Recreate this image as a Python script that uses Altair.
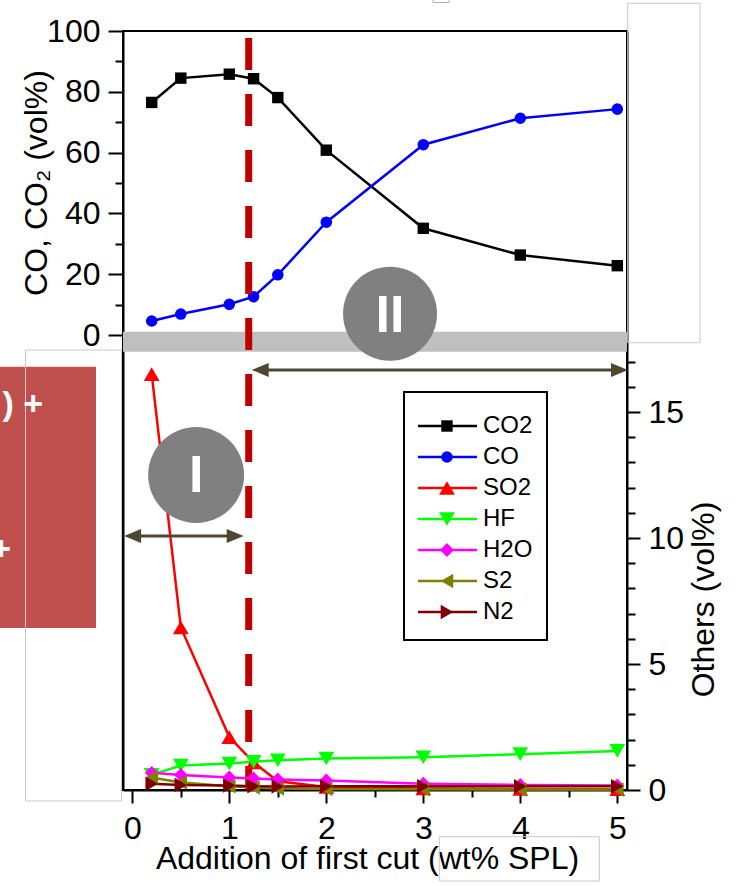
import altair as alt
import pandas as pd

# ---------------- data ----------------
addition = [0.2, 0.5, 1.0, 1.25, 1.5, 2, 3, 4, 5]

co2 = [76.5, 84.5, 85.8, 84.3, 78.1, 60.8, 35.1, 26.3, 22.8]
co = [4.6, 6.9, 10.1, 12.6, 19.8, 37.1, 62.6, 71.3, 74.3]

so2 = [16.5, 6.45, 2.1, 1.1, 0.35, 0.12, 0.06, 0.04, 0.03]
hf = [0.6, 0.97, 1.05, 1.12, 1.18, 1.25, 1.3, 1.42, 1.55]
h2o = [0.68, 0.6, 0.5, 0.46, 0.42, 0.38, 0.25, 0.2, 0.18]
s2 = [0.5, 0.3, 0.15, 0.1, 0.06, 0.04, 0.03, 0.02, 0.02]
n2 = [0.25, 0.2, 0.18, 0.15, 0.14, 0.15, 0.15, 0.15, 0.15]

series_names = ["CO2", "CO", "SO2", "HF", "H2O", "S2", "N2"]
series_colors = ["#000000", "#0000ff", "#ff0000", "#00ff00", "#ff00ff", "#808000", "#800000"]
series_shapes = ["square", "circle", "triangle-up", "triangle-down", "diamond",
                 "triangle-left", "triangle-right"]
series_sizes = [130, 135, 250, 250, 190, 210, 210]

x_ticks = [i / 2 for i in range(11)]
left_ticks = list(range(0, 101, 10))
right_ticks = list(range(0, 18))

# ---------------- styling ----------------
FONT = "Liberation Sans"
ARROW = "#4d4930"
DASH_RED = "#c00000"
CIRCLE_GREY = "#808080"

W, H = 504, 759
X_MIN, X_MAX = -0.096, 5.1
TOP_MIN, TOP_MAX = 100 - H / 3.04, 100
BOT_MIN, BOT_MAX = 0, H / 25.2

x_scale = alt.Scale(domain=[X_MIN, X_MAX], nice=False, zero=False)
top_scale = alt.Scale(domain=[TOP_MIN, TOP_MAX], nice=False, zero=False)
bot_scale = alt.Scale(domain=[BOT_MIN, BOT_MAX], nice=False, zero=False)

color_scale = alt.Scale(domain=series_names, range=series_colors)
shape_scale = alt.Scale(domain=series_names, range=series_shapes)
size_scale = alt.Scale(type="ordinal", domain=series_names, range=series_sizes)

common_axis = dict(
    grid=False,
    domainColor="black", domainWidth=2,
    tickColor="black", tickWidth=2,
    labelFont=FONT, labelFontSize=32, labelColor="black",
    titleFont=FONT, titleFontSize=32, titleFontWeight="normal", titleColor="black",
)

x_axis = alt.Axis(
    orient="bottom",
    values=x_ticks,
    labelExpr="datum.value % 1 === 0 ? format(datum.value, 'd') : ''",
    tickSize={"condition": {"test": "datum.value % 1 === 0", "value": 13}, "value": 7},
    labelPadding=10,
    labelFlush=False,
    labelOverlap=False,
    title="Addition of first cut (wt% SPL)",
    titleX=244, titleY=78, titleAlign="center", titleBaseline="alphabetic",
    **common_axis,
)

left_axis = alt.Axis(
    orient="left",
    values=left_ticks,
    labelExpr="datum.value % 20 === 0 ? datum.label : ''",
    tickSize={"condition": {"test": "datum.value % 20 === 0", "value": 15}, "value": 8},
    labelPadding=8,
    labelOverlap=False,
    title="CO, CO₂ (vol%)",
    titleAngle=270, titleX=-77, titleY=151.5, titleAlign="center", titleBaseline="alphabetic",
    **common_axis,
)

right_axis = alt.Axis(
    orient="right",
    values=right_ticks,
    labelExpr="datum.value % 5 === 0 ? datum.label : ''",
    tickSize={"condition": {"test": "datum.value % 5 === 0", "value": 13}, "value": 8},
    labelPadding=8,
    labelOverlap=False,
    title="Others (vol%)",
    titleAngle=270, titleX=86, titleY=568, titleAlign="center", titleBaseline="alphabetic",
    **common_axis,
)


def ex(field):
    return alt.X(field, type="quantitative", scale=x_scale, axis=x_axis)


def ey_top(field):
    return alt.Y(field, type="quantitative", scale=top_scale, axis=left_axis)


def ey_bot(field):
    return alt.Y(field, type="quantitative", scale=bot_scale, axis=right_axis)


def long_table(columns):
    rows = []
    for name, values in columns:
        for xv, yv in zip(addition, values):
            rows.append({"addition": xv, "value": yv, "gas": name})
    return pd.DataFrame(rows)


top_df = long_table([("CO2", co2), ("CO", co)])
bot_df = long_table([("SO2", so2), ("HF", hf), ("H2O", h2o), ("S2", s2), ("N2", n2)])

gas_color = alt.Color("gas:N", scale=color_scale, legend=None)
gas_shape = alt.Shape("gas:N", scale=shape_scale, legend=None)
gas_size = alt.Size("gas:N", scale=size_scale, legend=None)

one_row = pd.DataFrame({"a": [0]})

# ---------------- upper panel: CO2 / CO ----------------
top_lines = alt.Chart(top_df).mark_line(strokeWidth=2.5).encode(
    x=ex("addition"), y=ey_top("value"), color=gas_color
)
top_points = alt.Chart(top_df).mark_point(filled=True, opacity=1).encode(
    x=ex("addition"), y=ey_top("value"), color=gas_color, shape=gas_shape, size=gas_size
)
band = alt.Chart(pd.DataFrame({"x0": [X_MIN], "x1": [X_MAX], "y0": [1.1], "y1": [-5.5]})).mark_rect(
    color="#bfbfbf"
).encode(x=ex("x0"), x2="x1", y=ey_top("y0"), y2="y1")

boundary = alt.Chart(pd.DataFrame({"x": [1.2]})).mark_rule(
    color=DASH_RED, strokeWidth=7, strokeDash=[32, 24], strokeCap="butt"
).encode(x=ex("x"), y=alt.value(7), y2=alt.value(H))

zone2 = pd.DataFrame({"x": [2.657], "y": [7.0]})
zone2_circle = alt.Chart(zone2).mark_point(
    shape="circle", filled=True, opacity=1, size=94 * 94, color=CIRCLE_GREY
).encode(x=ex("x"), y=ey_top("y"))
zone2_label = alt.Chart(zone2).mark_text(
    text="II", font=FONT, fontSize=52, fontWeight="bold", color="white",
    align="center", baseline="middle", dy=2
).encode(x=ex("x"), y=ey_top("y"))

top_layer = alt.layer(top_lines, top_points, band, boundary, zone2_circle, zone2_label)

# ---------------- lower panel: other gases ----------------
bot_lines = alt.Chart(bot_df).mark_line(strokeWidth=2.5).encode(
    x=ex("addition"), y=ey_bot("value"), color=gas_color
)
bot_points = alt.Chart(bot_df).mark_point(filled=True, opacity=1).encode(
    x=ex("addition"), y=ey_bot("value"), color=gas_color, shape=gas_shape, size=gas_size
)

head_right = "M0,0L-2,-0.82L-2,0.82Z"
head_left = "M0,0L2,-0.82L2,0.82Z"


def double_arrow(x_start, x_end, y):
    shaft = alt.Chart(pd.DataFrame({"x0": [x_start + 0.1], "x1": [x_end - 0.1], "y": [y]})).mark_rule(
        color=ARROW, strokeWidth=3
    ).encode(x=ex("x0"), x2="x1", y=ey_bot("y"))
    left = alt.Chart(pd.DataFrame({"x": [x_start], "y": [y]})).mark_point(
        shape=head_left, filled=True, opacity=1, size=289, color=ARROW
    ).encode(x=ex("x"), y=ey_bot("y"))
    right = alt.Chart(pd.DataFrame({"x": [x_end], "y": [y]})).mark_point(
        shape=head_right, filled=True, opacity=1, size=289, color=ARROW
    ).encode(x=ex("x"), y=ey_bot("y"))
    return [shaft, left, right]


zone1 = pd.DataFrame({"x": [0.658], "y": [12.5]})
zone1_circle = alt.Chart(zone1).mark_point(
    shape="circle", filled=True, opacity=1, size=96 * 96, color=CIRCLE_GREY
).encode(x=ex("x"), y=ey_bot("y"))
zone1_label = alt.Chart(zone1).mark_text(
    text="I", font=FONT, fontSize=52, fontWeight="bold", color="white",
    align="center", baseline="middle", dy=1
).encode(x=ex("x"), y=ey_bot("y"))

# legend box drawn in the lower panel's coordinates
LEG_Y0 = (790 - 426) / 25.2
LEG_STEP = 31 / 25.2
legend_df = pd.DataFrame({"gas": series_names, "row": list(range(len(series_names)))})
legend_base = alt.Chart(legend_df).transform_calculate(
    ly=f"{LEG_Y0} - {LEG_STEP} * datum.row",
    lx0="2.945", lx1="3.554", mx="3.244", tx="3.615",
)
legend_frame = alt.Chart(pd.DataFrame({"x0": [2.801], "x1": [4.275], "y0": [15.79], "y1": [5.95]})).mark_rect(
    fill="white", stroke="black", strokeWidth=2
).encode(x=ex("x0"), x2="x1", y=ey_bot("y0"), y2="y1")
legend_lines = legend_base.mark_rule(strokeWidth=2.5).encode(
    x=ex("lx0"), x2="lx1", y=ey_bot("ly"), color=gas_color
)
legend_marks = legend_base.mark_point(filled=True, opacity=1).encode(
    x=ex("mx"), y=ey_bot("ly"), color=gas_color, shape=gas_shape, size=gas_size
)
legend_text = legend_base.mark_text(
    font=FONT, fontSize=24, color="black", align="left", baseline="middle"
).encode(x=ex("tx"), y=ey_bot("ly"), text="gas:N")

bot_layer = alt.layer(
    bot_lines, bot_points,
    *double_arrow(1.231, 5.11, 16.67),
    *double_arrow(-0.085, 1.148, 10.08),
    zone1_circle, zone1_label,
    legend_frame, legend_lines, legend_marks, legend_text,
)

# ---------------- surrounding slide elements ----------------
def frame_box(x0, x1, y0, y1, **kw):
    return alt.Chart(one_row).mark_rect(**kw).encode(
        x=alt.value(x0), x2=alt.value(x1), y=alt.value(y0), y2=alt.value(y1)
    )


red_panel = frame_box(-123, -27, 335.7, 597, fill="#c0504d")
grey_left = frame_box(-97.5, -1.5, 319, 770, fill="white", fillOpacity=0, stroke="#c8c8c8", strokeWidth=1)
grey_right = frame_box(504.7, 577, -27.7, 311.7, fill="white", fillOpacity=0, stroke="#c8c8c8", strokeWidth=1)
grey_unit = frame_box(316.3, 476.3, 805.7, 850, fill="white", fillOpacity=0, stroke="#c8c8c8", strokeWidth=1)
grey_tiny = frame_box(310, 326, -32, -28.5, fill="white", fillOpacity=0, stroke="#b0b0b0", strokeWidth=1)

panel_text1 = alt.Chart(one_row).mark_text(
    text=") +", font=FONT, fontSize=34, fontWeight="bold", color="white", align="right", baseline="middle"
).encode(x=alt.value(-80), y=alt.value(374))
panel_text2 = alt.Chart(one_row).mark_text(
    text="+", font=FONT, fontSize=34, fontWeight="bold", color="white", align="right", baseline="middle"
).encode(x=alt.value(-112), y=alt.value(519))

chart = alt.layer(
    red_panel, grey_left, grey_right, grey_tiny,
    top_layer, bot_layer,
    grey_unit, panel_text1, panel_text2,
).resolve_scale(
    y="independent"
).properties(
    width=W, height=H,
    autosize=alt.AutoSizeParams(type="none"),
    padding={"left": 123, "top": 31, "right": 114, "bottom": 96},
    background="white",
).configure_view(
    stroke="black", strokeWidth=2
)

chart.save("out.html", embed_options={"renderer": "svg", "actions": False})
